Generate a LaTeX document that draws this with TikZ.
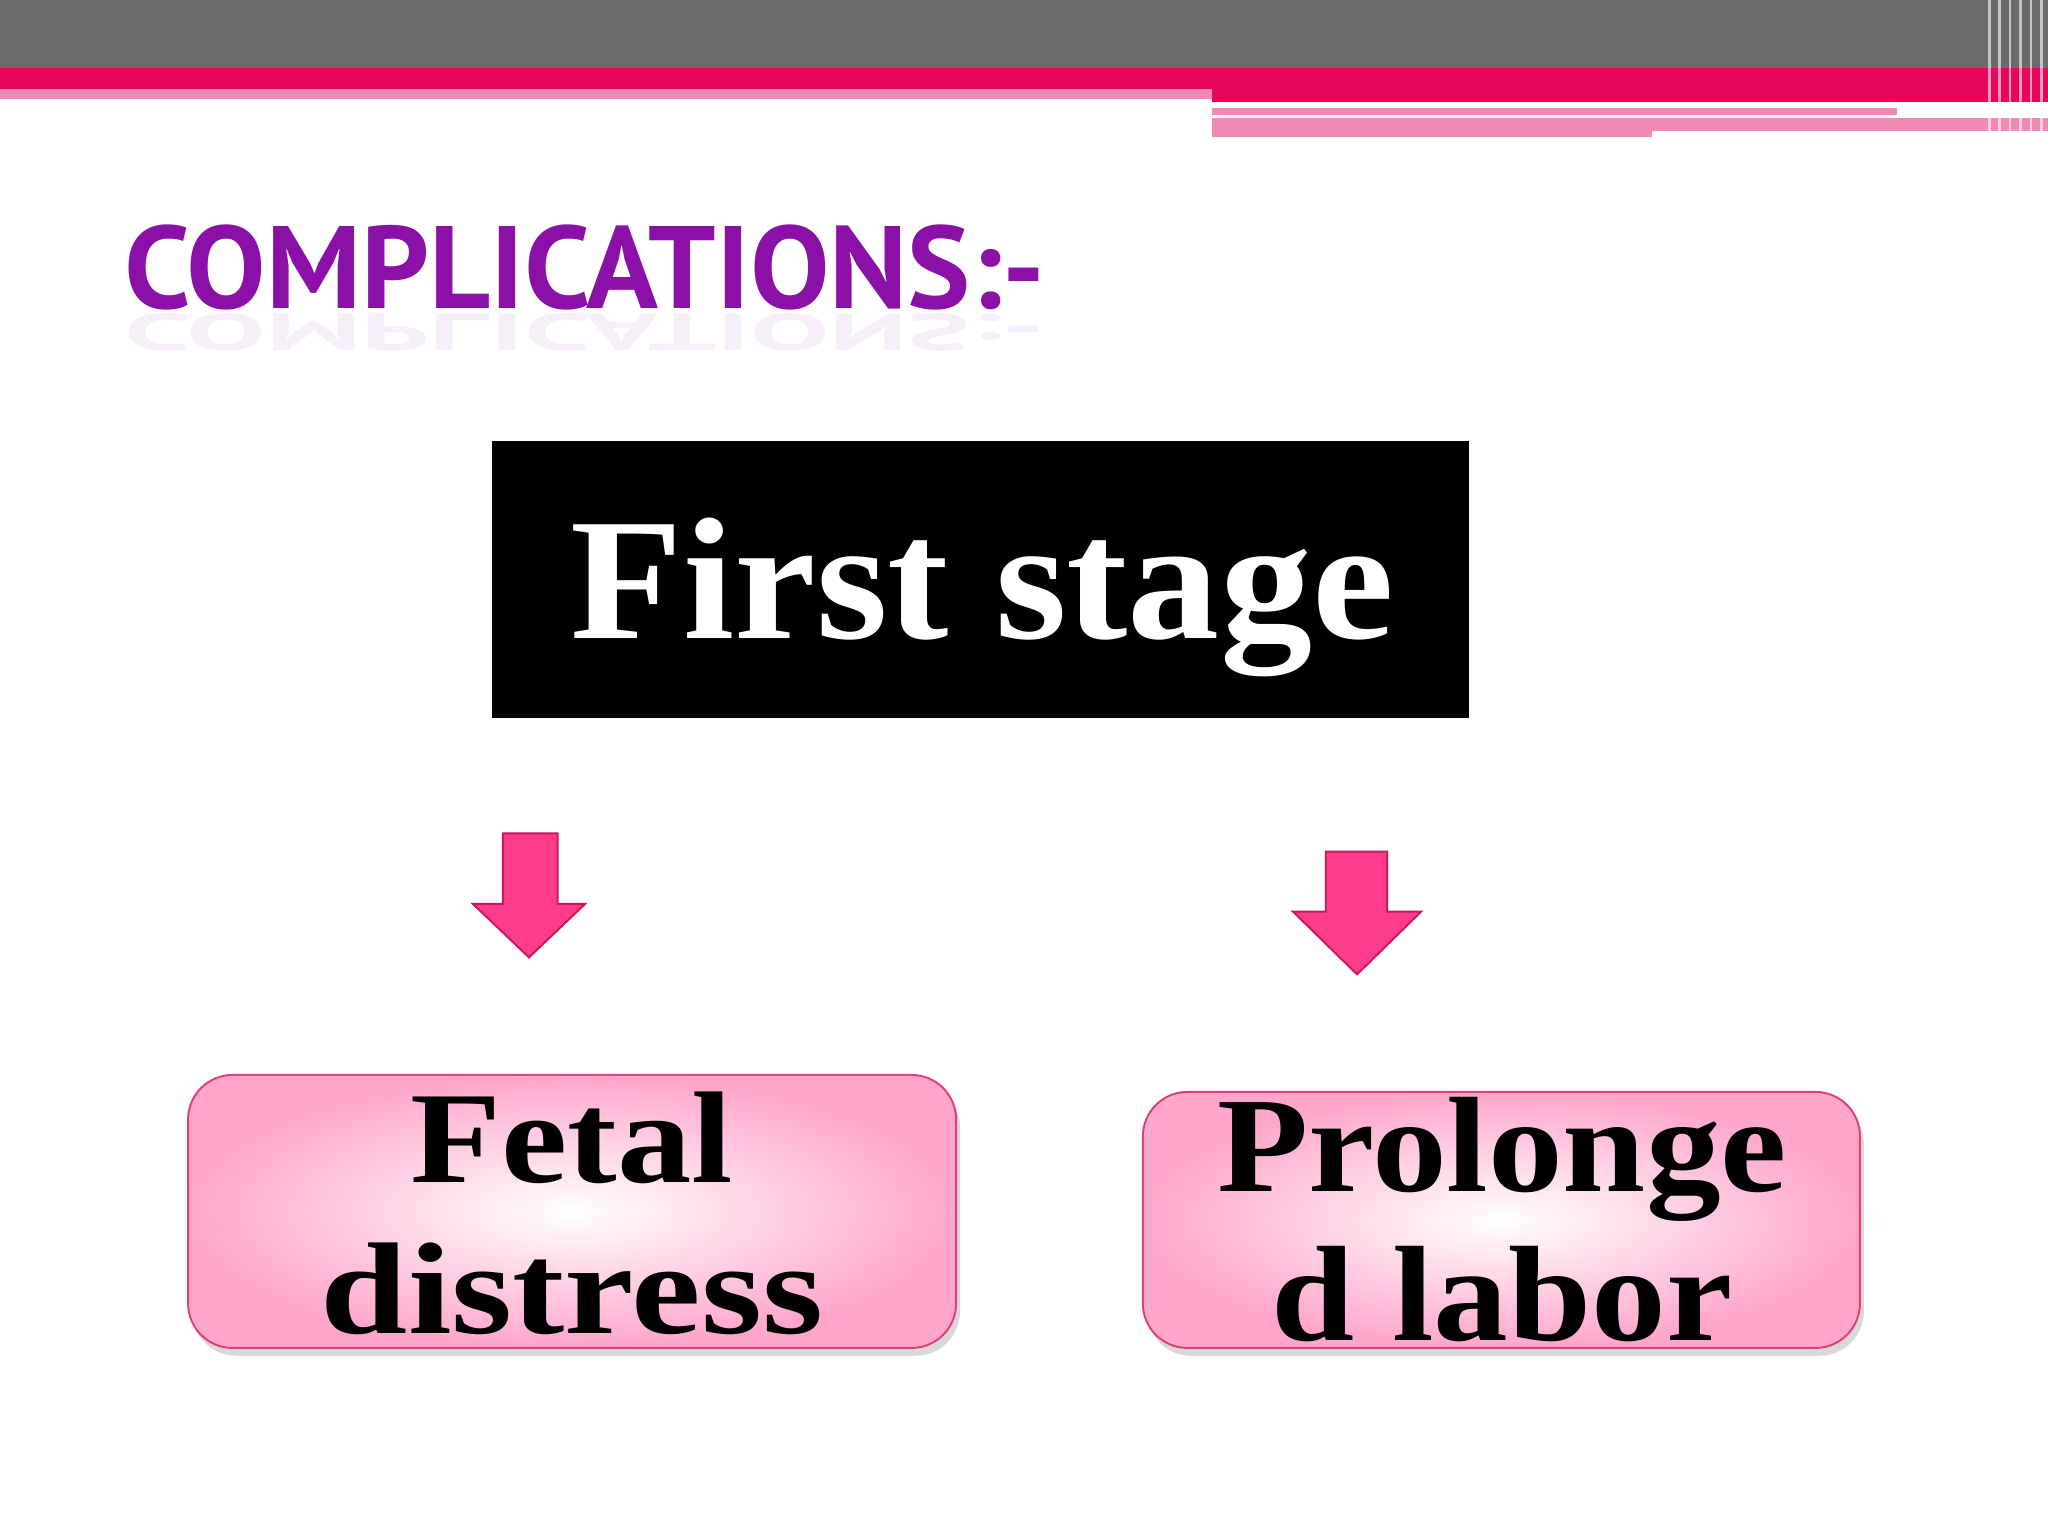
\documentclass[tikz,border=0pt]{standalone}
\usepackage{fontspec}
\setmainfont{Liberation Serif}
\newfontfamily\titlefont{PT Sans}
\usetikzlibrary{shadows}
\definecolor{topgray}{HTML}{6A6A6A}
\definecolor{crim}{HTML}{E8065A}
\definecolor{lpink}{HTML}{F08AB4}
\definecolor{purp}{HTML}{8A10A8}
\definecolor{arrowfill}{HTML}{FF3C8C}
\definecolor{arrowedge}{HTML}{C8185E}
\definecolor{boxedge}{HTML}{E0407A}
\definecolor{boxpink}{HTML}{FFA6CA}
\tikzset{
  pinkbox/.style={draw=boxedge, line width=1.5pt, rounded corners=34pt, inner color=white, outer color=boxpink,
    drop shadow={shadow xshift=3pt, shadow yshift=-6pt, opacity=0.3}},
  boxtext/.style={text=black, align=center},
  downarrow/.style={fill=arrowfill, draw=arrowedge, line width=1.5pt}
}
\newcommand{\bt}[3][1.08]{\scalebox{#1}[1]{\fontsize{#2}{#2}\selectfont\bfseries #3}}
\begin{document}
\begin{tikzpicture}[x=1pt,y=-1pt]
\useasboundingbox (0,0) rectangle (1568,1176);
\fill[white] (0,0) rectangle (1568,1176);
% top bars
\fill[topgray] (0,0) rectangle (1568,52);
\fill[crim] (0,52) rectangle (1568,68);
\fill[lpink] (0,68) rectangle (928,76);
\fill[crim] (928,68) rectangle (1568,78);
\fill[lpink] (928,90) rectangle (1568,105);
\fill[white] (1265,100) rectangle (1568,106);
\fill[lpink] (928,83) rectangle (1452,88);
\foreach \x in {1522,1530,1538,1546,1554,1562}{\fill[white,opacity=0.6] (\x,0) rectangle (\x+2,105);}
% title
\node[anchor=south west, inner sep=0, text=purp] (title) at (95,238)
  {\resizebox{705pt}{64pt}{\titlefont\bfseries COMPLICATIONS:-}};
\node[anchor=north west, inner sep=0, text=purp, opacity=0.07] (refl) at (95,240)
  {\scalebox{1}[-1]{\resizebox{705pt}{28pt}{\titlefont\bfseries COMPLICATIONS:-}}};
% first stage
\node[fill=black, minimum width=748pt, minimum height=212pt, inner sep=0] (first) at (751,444) {};
\node[text=white, inner sep=0, anchor=base] (fstext) at (752,489) {\bt[1.06]{133}{First stage}};
% arrows
\draw[downarrow] (385,638) -- (427,638) -- (427,692) -- (448,692) -- (405,733) -- (362,692) -- (385,692) -- cycle;
\draw[downarrow] (1015,652) -- (1062,652) -- (1062,698) -- (1088,698) -- (1039,746) -- (990,698) -- (1015,698) -- cycle;
% boxes
\draw[pinkbox] (144,823) rectangle (732,1032);
\node[boxtext, anchor=base] (fetal1) at (438,905) {\bt[1.14]{100}{Fetal}};
\node[boxtext, anchor=base] (fetal2) at (438,1021) {\bt[1.2]{100}{distress}};
\draw[pinkbox] (875,836) rectangle (1424,1032);
\node[boxtext, anchor=base] (prol1) at (1150,912) {\bt[1.1]{104}{Prolonge}};
\node[boxtext, anchor=base] (prol2) at (1150,1026) {\bt[1.1]{104}{d labor}};
\end{tikzpicture}
\end{document}
